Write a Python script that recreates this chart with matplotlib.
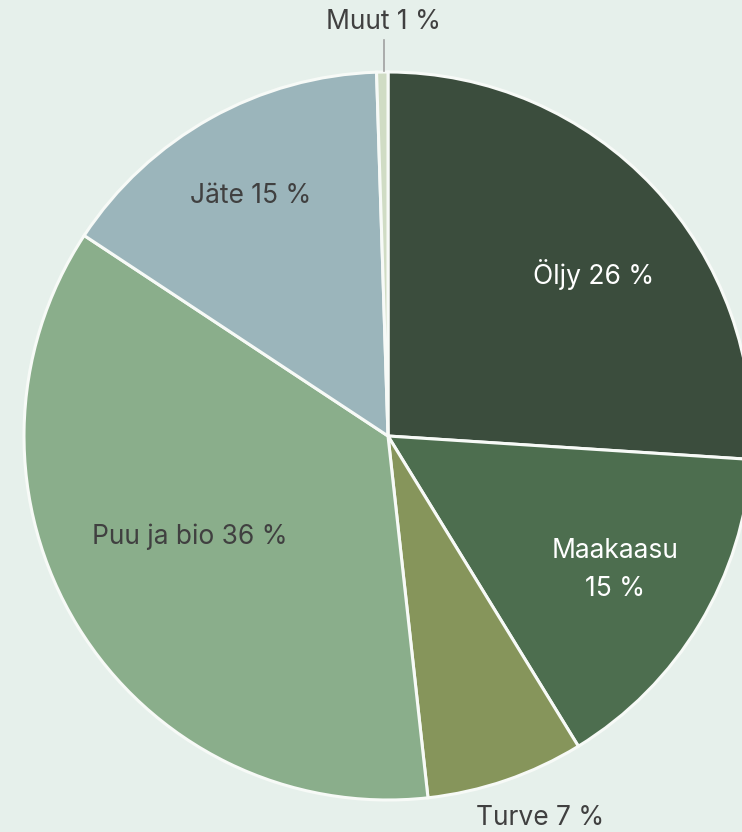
import numpy as np
import matplotlib
matplotlib.use("Agg")
import matplotlib.pyplot as plt

# Energy sources, share of total
names = ["Öljy", "Maakaasu", "Turve", "Puu ja bio", "Jäte", "Muut"]
shares = [26.0, 15.2, 7.0, 36.0, 15.2, 0.5]
shown_pct = [26, 15, 7, 36, 15, 1]
colors = ["#3b4d3d", "#4d6e4f", "#86955b", "#8aae8b", "#9bb5bb", "#d0dcc4"]
text_colors = ["white", "white", "#404040", "#404040", "#404040", "#404040"]
# label placement: radius fraction and angle (deg) from pie centre
label_dist = [0.717, 0.724, 1.13, 0.61, 0.76, 1.13]
label_ang = [38.1, -30.6, -68.3, 207.0, 119.8, 90.6]
bg = "#e6f0eb"

W, H = 742, 832
fig = plt.figure(figsize=(W / 100, H / 100), dpi=100, facecolor=bg)
ax = fig.add_axes([0, 0, 1, 1])
ax.set_facecolor(bg)

cx, cy, r = 388, H - 436, 364
wedges, _ = ax.pie(
    shares,
    colors=colors,
    startangle=90,
    counterclock=False,
    center=(cx, cy),
    radius=r,
    frame=True,
    wedgeprops=dict(edgecolor="#f7faf7", linewidth=2.2),
)
ax.set_xlim(0, W)
ax.set_ylim(0, H)
ax.set_aspect("equal")
ax.axis("off")

for name, pct, tc, d, a in zip(names, shown_pct, text_colors, label_dist, label_ang):
    x = cx + d * r * np.cos(np.deg2rad(a))
    y = cy + d * r * np.sin(np.deg2rad(a))
    txt = f"{name}\n{pct} %" if name == "Maakaasu" else f"{name} {pct} %"
    if name == "Muut":
        x = cx - 4
        ax.plot([x, x], [cy + r + 1, cy + r + 32], color="#a0a0a0", lw=1.2)
        y = H - 22
    ax.text(x, y, txt, ha="center", va="center", color=tc,
            fontsize=19, family=["Inter", "DejaVu Sans"], linespacing=1.6)

fig.savefig("out.png", dpi=100, facecolor=bg)
